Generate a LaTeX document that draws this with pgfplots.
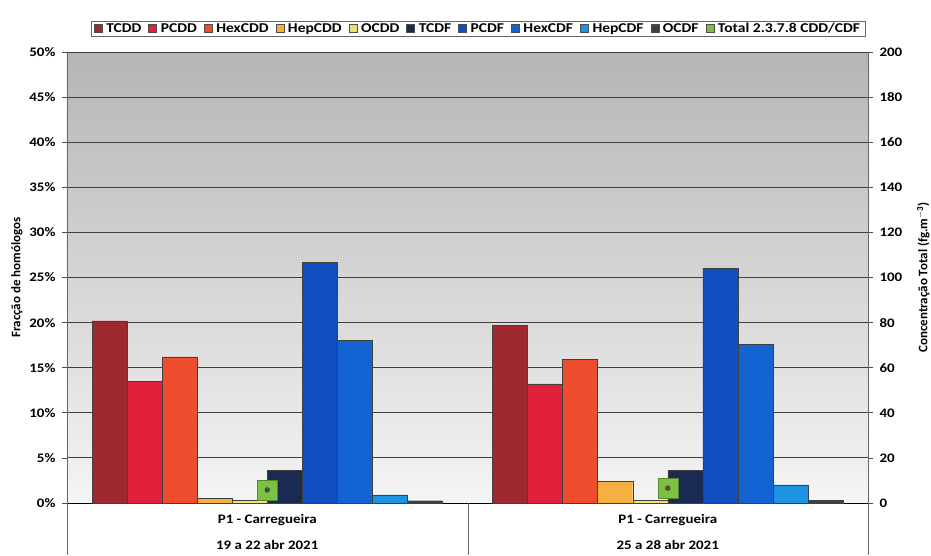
\documentclass[border=0pt]{standalone}
\usepackage{fontspec}
\setmainfont{Carlito}
\newfontfamily\wfont[FakeStretch=1.15]{Carlito}
\newfontfamily\lfont[FakeStretch=1.15]{Carlito}
\usepackage{pgfplots}
\pgfplotsset{compat=1.18}
\usetikzlibrary{shadings}
\definecolor{cTCDD}{HTML}{9E2A30}
\definecolor{cPCDD}{HTML}{E3203C}
\definecolor{cHexCDD}{HTML}{EE4E2E}
\definecolor{cHepCDD}{HTML}{F5B042}
\definecolor{cOCDD}{HTML}{F2E070}
\definecolor{cTCDF}{HTML}{1B2A50}
\definecolor{cPCDF}{HTML}{0F4FBF}
\definecolor{cHexCDF}{HTML}{1463D2}
\definecolor{cHepCDF}{HTML}{1E92E2}
\definecolor{cOCDF}{HTML}{3A4048}
\definecolor{cTotal}{HTML}{7CC242}
\begin{document}
\begin{tikzpicture}
\pgfplotsset{
  every axis/.append style={
    scale only axis, width=801pt, height=451pt,
    xmin=-0.5, xmax=1.5,
    /pgf/number format/assume math mode=true,
    tick label style={font=\wfont\bfseries\fontsize{13}{15}\selectfont},
    label style={font=\bfseries\fontsize{13}{15}\selectfont},
  }
}
\begin{axis}[
  at={(0,0)}, anchor=south west,
  ymin=0, ymax=50,
  ytick={0,5,...,50},
  yticklabel={\pgfmathprintnumber{\tick}\%},
  yticklabel style={xshift=-3pt},
  axis x line*=bottom, axis y line*=left,
  axis line style={black!60, line width=0.8pt},
  x axis line style={black, line width=0.8pt},
  y tick style={black!70, line width=0.8pt},
  tick align=outside, major tick length=5pt,
  xtick={0,1},
  xtick style={draw=none},
  xticklabels={{P1 - Carregueira\\[11pt]19 a 22 abr 2021},{P1 - Carregueira\\[11pt]25 a 28 abr 2021}},
  xticklabel style={align=center, yshift=-3pt},
  ymajorgrids,
  major grid style={black!75, line width=0.9pt},
  axis background/.style={shade, top color=black!29, bottom color=black!4},
  ylabel={Fracção de homólogos},
  ylabel style={yshift=0pt},
  ybar, bar width=0.0875,
  every axis plot/.append style={draw=black!75, line width=0.4pt},
  legend columns=11,
  legend style={at={(0.513,1.052)}, anchor=center, draw=black!60,
    font=\lfont\bfseries\fontsize{13.5}{15}\selectfont, fill=white,
    inner xsep=3pt, inner ysep=0pt,
    /tikz/every even column/.append style={column sep=5pt},
    /tikz/every odd column/.append style={column sep=2pt}},
  legend image code/.code={\draw[#1,draw=black!70,line width=0.4pt] (0pt,-4pt) rectangle (8pt,4pt);},
]
\addplot[fill=cTCDD, bar shift=-0.39375] coordinates {(0,20.2) (1,19.7)};
\addplot[fill=cPCDD, bar shift=-0.30625] coordinates {(0,13.5) (1,13.2)};
\addplot[fill=cHexCDD, bar shift=-0.21875] coordinates {(0,16.2) (1,15.9)};
\addplot[fill=cHepCDD, bar shift=-0.13125] coordinates {(0,0.5) (1,2.4)};
\addplot[fill=cOCDD, bar shift=-0.04375] coordinates {(0,0.3) (1,0.3)};
\addplot[fill=cTCDF, bar shift=0.04375] coordinates {(0,3.6) (1,3.6)};
\addplot[fill=cPCDF, bar shift=0.13125] coordinates {(0,26.7) (1,26.0)};
\addplot[fill=cHexCDF, bar shift=0.21875] coordinates {(0,18.0) (1,17.6)};
\addplot[fill=cHepCDF, bar shift=0.30625] coordinates {(0,0.9) (1,2.0)};
\addplot[fill=cOCDF, bar shift=0.39375] coordinates {(0,0.25) (1,0.3)};
\addlegendimage{fill=cTotal, draw=cTotal}
\legend{TCDD,PCDD,HexCDD,HepCDD,OCDD,TCDF,PCDF,HexCDF,HepCDF,OCDF,Total 2.3.7.8 CDD/CDF}
\end{axis}
\begin{axis}[
  at={(0,0)}, anchor=south west,
  ymin=0, ymax=200,
  ytick={0,20,...,200},
  yticklabel style={xshift=3pt},
  axis y line*=right, axis x line=none,
  axis line style={black!60, line width=0.8pt},
  y tick style={black!70, line width=0.8pt},
  tick align=outside, major tick length=5pt,
  ylabel={Concentração Total (fg.m$^{\mathbf{-3}}$)},
  ylabel style={yshift=-8pt},
]
\addplot[only marks, mark=square*, mark size=10pt, mark options={fill=cTotal, draw=cTotal!70!black}] coordinates {(0,5.8) (1,6.6)};
\addplot[only marks, mark=*, mark size=2.5pt, mark options={fill=black!70, draw=black!70}] coordinates {(0,5.8) (1,6.6)};
\end{axis}
\draw[black!60, line width=0.8pt] (0pt,0pt) -- (0pt,-52pt);
\draw[black!60, line width=0.8pt] (401pt,0pt) -- (401pt,-52pt);
\draw[black!60, line width=0.8pt] (801pt,0pt) -- (801pt,-52pt);
\pgfresetboundingbox
\useasboundingbox (-67pt,-52pt) rectangle (864pt,503pt);
\end{tikzpicture}
\end{document}
